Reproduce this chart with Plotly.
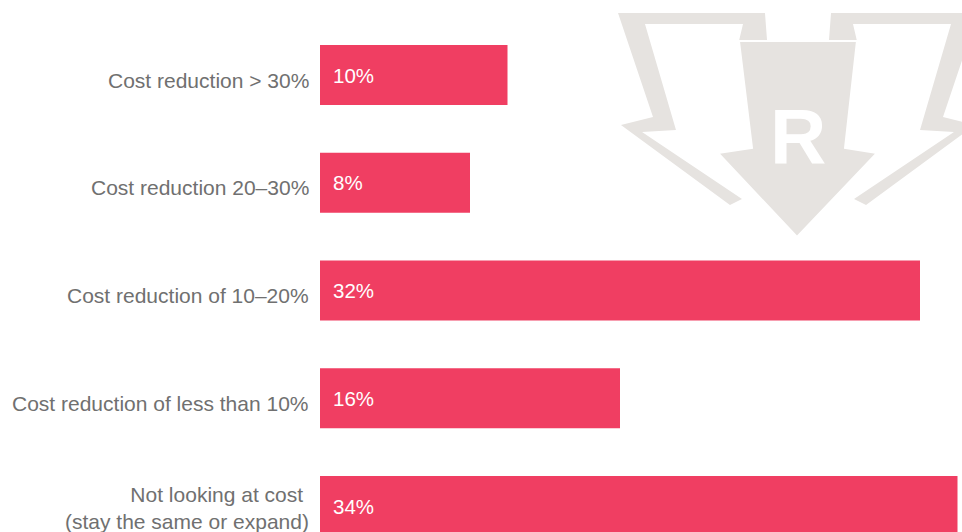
import plotly.graph_objects as go

# survey data
categories = [
    "Cost reduction > 30%",
    "Cost reduction 20–30%",
    "Cost reduction of 10–20%",
    "Cost reduction of less than 10%",
    "Not looking at cost <br>(stay the same or expand)",
]
shares = [10, 8, 32, 16, 34]

BAR = "#F03E62"
GREY_TEXT = "#707070"
LOGO = "#E6E3E0"

W, H = 962, 532
L = 320


def px(x, y):
    # pixel on page -> paper coords
    return (x - L) / (W - L), 1 - y / H


def path(points):
    pts = [px(x, y) for x, y in points]
    return "M " + " L ".join(f"{a:.4f},{b:.4f}" for a, b in pts) + " Z"


# watermark logo outline (pixel positions on the page)
left_piece = [(618, 13), (653, 117), (621, 125), (730, 205), (742, 199),
              (642, 132), (676, 130), (645, 24), (743, 24), (739, 41),
              (767, 40), (765, 13)]
right_piece = [(1596 - x, y) for x, y in left_piece]
centre = [(739, 41), (857, 41), (845, 148), (877, 153), (797, 237),
          (718, 153), (752, 148)]

shapes = []
for pts in (left_piece, right_piece):
    shapes.append(dict(type="path", path=path(pts), xref="paper", yref="paper",
                       fillcolor=LOGO, line=dict(width=0), layer="below"))
shapes.append(dict(type="path", path=path(centre), xref="paper", yref="paper",
                   fillcolor=LOGO, line=dict(color="white", width=2), layer="below"))

fig = go.Figure()
fig.add_trace(go.Bar(
    y=categories, x=shares, orientation="h",
    marker=dict(color=BAR, line=dict(width=0)),
    width=0.557, hoverinfo="skip",
))

annotations = []
for c, v in zip(categories, shares):
    # value inside the bar
    annotations.append(dict(x=0, y=c, text=f"{v}%", xref="x", yref="y", xanchor="left",
                            xshift=11, showarrow=False,
                            font=dict(color="white", size=20.5, family="Liberation Sans")))
    # category label left of the bar
    annotations.append(dict(x=0, y=c, text=c, xref="x", yref="y", xanchor="right",
                            align="right", xshift=-9,
                            yshift=-2 if "<br>" in c else -5, showarrow=False,
                            font=dict(color=GREY_TEXT, size=21, family="Liberation Sans")))

rx, ry = px(798, 136)
annotations.append(dict(x=rx, y=ry, xref="paper", yref="paper", text="<b>R</b>",
                        showarrow=False, xanchor="center", yanchor="middle",
                        font=dict(color="white", size=78, family="Liberation Sans")))

fig.update_layout(
    width=W, height=H,
    margin=dict(l=L, r=0, t=0, b=0),
    paper_bgcolor="white", plot_bgcolor="rgba(0,0,0,0)",
    showlegend=False,
    shapes=shapes,
    annotations=annotations,
    xaxis=dict(range=[0, (W - L) / 18.75], visible=False, fixedrange=True),
    yaxis=dict(type="category", range=[4.241, -0.696], showgrid=False,
               zeroline=False, showline=False, showticklabels=False,
               fixedrange=True),
    font=dict(family="Liberation Sans"),
)

fig.write_html("out.html", config={"displayModeBar": False},
               post_script="document.body.style.margin='0px';")
